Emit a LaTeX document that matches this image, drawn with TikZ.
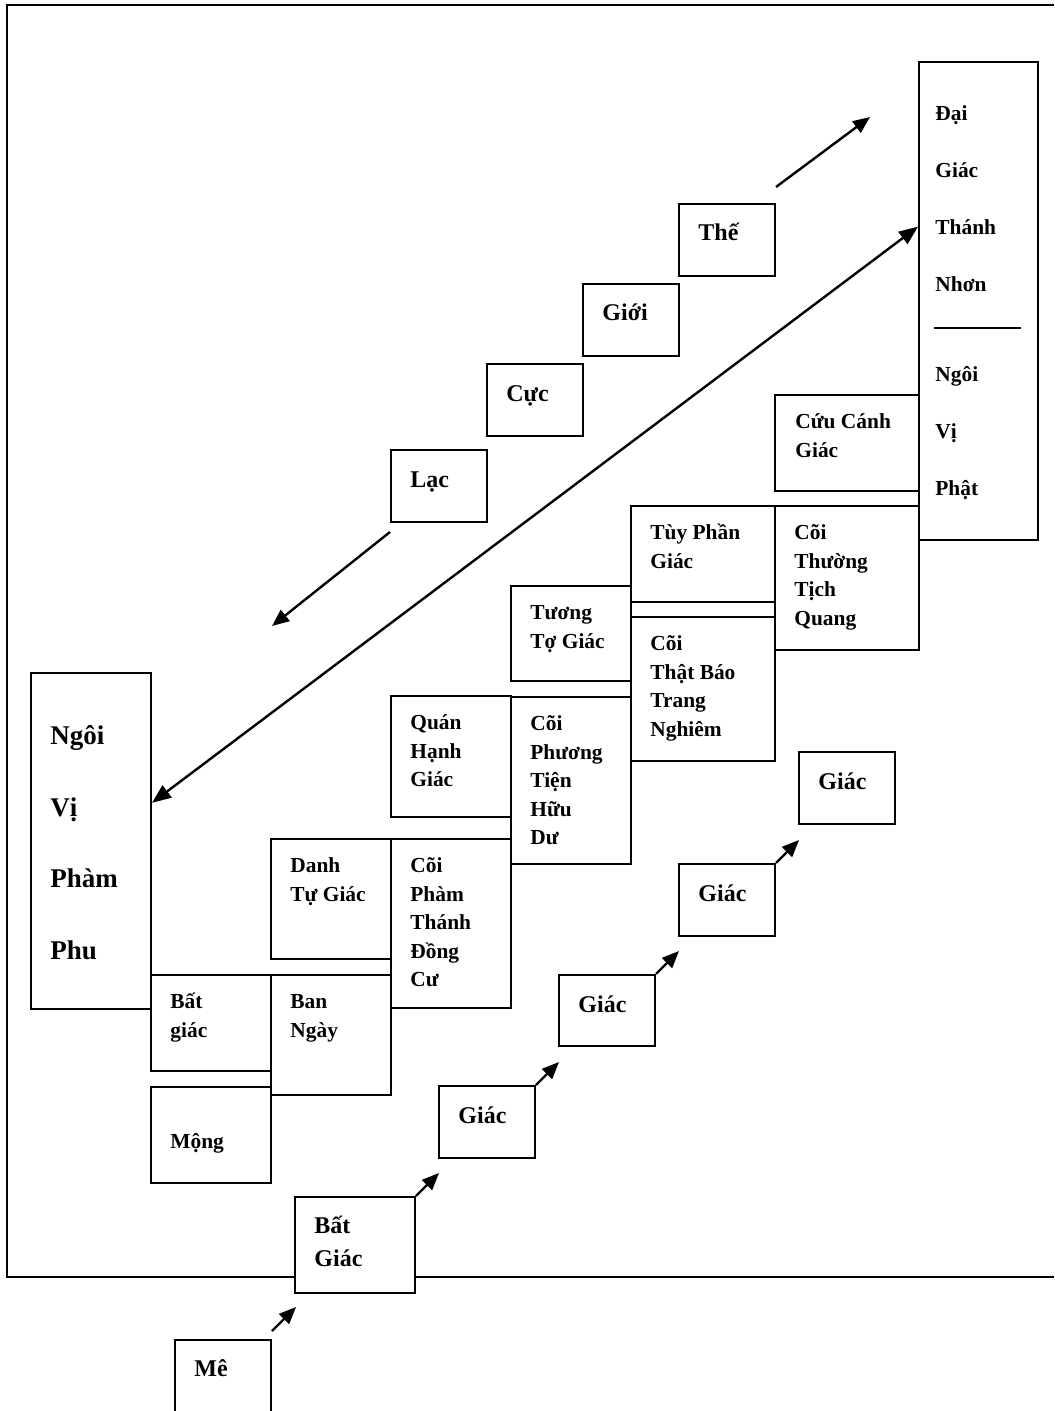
\documentclass[tikz,border=0pt]{standalone}
\usepackage{fontspec}
\setmainfont{Liberation Serif}
\usetikzlibrary{calc}
\usetikzlibrary{arrows.meta}
\usetikzlibrary{fit}

\begin{document}
\begin{tikzpicture}[x=0.5pt,y=-0.5pt]

    \tikzstyle{box}=[draw,fill=white,line width=1pt,inner sep=0pt]
    \tikzstyle{vector}=[-{Triangle[length=8.5pt,width=7pt]},line width=1.2pt,color=black]
    \tikzstyle{long vector}=[{Triangle[length=9.5pt,width=7.5pt]}-{Triangle[length=9.5pt,width=7.5pt]},line width=1.2pt,color=black]
    % base of a text is the base of its last line
    \tikzstyle{step text}=[font=\bfseries\fontsize{12}{16.2}\selectfont,anchor=base west,inner sep=0pt,align=left]
    \tikzstyle{small text}=[font=\bfseries\fontsize{10.7}{14.25}\selectfont,anchor=base west,inner sep=0pt,align=left]
    \tikzstyle{wide text}=[font=\bfseries\fontsize{10.7}{28.5}\selectfont,anchor=base west,inner sep=0pt,align=left]
    \tikzstyle{big text}=[font=\bfseries\fontsize{13.5}{35.75}\selectfont,anchor=base west,inner sep=0pt,align=left]

    \useasboundingbox (0,0) rectangle (1054,1411);
    \clip (0,0) rectangle (1054,1411);

    % Frame
    \draw[line width=1.1pt] (1054,5) -- (7,5) -- (7,1277) -- (1054,1277);

    % Ngoi vi Phat
    \node[box, fit={(919,62) (1038,540)}] (dai) {};
    \draw[line width=1pt] ([shift={(16,267)}]dai.north west) -- ([shift={(103,267)}]dai.north west);
    \node[wide text] (daiT) at ([shift={(17,231)}]dai.north west) {Đại\\Giác\\Thánh\\Nhơn};
    \node[wide text] (phatT) at ([shift={(17,434)}]dai.north west) {Ngôi\\Vị\\Phật};

    % The gioi cuc lac
    \node[box, fit={(679,204) (775,276)}] (the) {};
    \node[box, fit={(583,284) (679,356)}] (gioi) {};
    \node[box, fit={(487,364) (583,436)}] (cuc) {};
    \node[box, fit={(391,450) (487,522)}] (lac) {};
    \node[step text] (theT) at ([shift={(20,38)}]the.north west) {Thế};
    \node[step text] (gioiT) at ([shift={(20,38)}]gioi.north west) {Giới};
    \node[step text] (cucT) at ([shift={(20,38)}]cuc.north west) {Cực};
    \node[step text] (lacT) at ([shift={(20,38)}]lac.north west) {Lạc};

    % Cac coi va cac giac
    \node[box, fit={(775,395) (919,491)}] (cuucanh) {};
    \node[box, fit={(775,506) (919,650)}] (thuong) {};
    \node[box, fit={(631,506) (775,602)}] (tuyphan) {};
    \node[box, fit={(631,617) (775,761)}] (thatbao) {};
    \node[box, fit={(511,586) (631,681)}] (tuongto) {};
    \node[box, fit={(511,697) (631,864)}] (phuongtien) {};
    \node[box, fit={(391,696) (511,817)}] (quanhanh) {};
    \node[box, fit={(391,839) (511,1008)}] (phamthanh) {};
    \node[box, fit={(271,839) (391,959)}] (danhtu) {};
    \node[box, fit={(271,975) (391,1095)}] (banngay) {};
    \node[box, fit={(151,975) (271,1071)}] (batgiac) {};
    \node[box, fit={(151,1087) (271,1183)}] (mong) {};
    \node[small text] (cuucanhT) at ([shift={(21,63)}]cuucanh.north west) {Cứu Cánh\\Giác};
    \node[small text] (thuongT) at ([shift={(20,120)}]thuong.north west) {Cõi\\Thường\\Tịch\\Quang};
    \node[small text] (tuyphanT) at ([shift={(20,63)}]tuyphan.north west) {Tùy Phần\\Giác};
    \node[small text] (thatbaoT) at ([shift={(20,120)}]thatbao.north west) {Cõi\\Thật Báo\\Trang\\Nghiêm};
    \node[small text] (tuongtoT) at ([shift={(20,63)}]tuongto.north west) {Tương\\Tợ Giác};
    \node[small text] (phuongtienT) at ([shift={(20,148.5)}]phuongtien.north west) {Cõi\\Phương\\Tiện\\Hữu\\Dư};
    \node[small text] (quanhanhT) at ([shift={(20,91.5)}]quanhanh.north west) {Quán\\Hạnh\\Giác};
    \node[small text] (phamthanhT) at ([shift={(20,148.5)}]phamthanh.north west) {Cõi\\Phàm\\Thánh\\Đồng\\Cư};
    \node[small text] (danhtuT) at ([shift={(20,63)}]danhtu.north west) {Danh\\Tự Giác};
    \node[small text] (banngayT) at ([shift={(20,63)}]banngay.north west) {Ban\\Ngày};
    \node[small text] (batgiacT) at ([shift={(20,63)}]batgiac.north west) {Bất\\giác};
    \node[small text] (mongT) at ([shift={(20,62.5)}]mong.north west) {Mộng};

    % Ngoi vi pham phu
    \node[box, fit={(31,673) (151,1009)}] (phamphu) {};
    \node[big text] (phamphuT) at ([shift={(20,287)}]phamphu.north west) {Ngôi\\Vị\\Phàm\\Phu};

    % Me -> Giac
    \node[box, fit={(175,1340) (271,1440)}] (me) {};
    \node[box, fit={(295,1197) (415,1293)}] (batgiac2) {};
    \node[box, fit={(439,1086) (535,1158)}] (giac2) {};
    \node[box, fit={(559,975) (655,1046)}] (giac3) {};
    \node[box, fit={(679,864) (775,936)}] (giac4) {};
    \node[box, fit={(799,752) (895,824)}] (giac5) {};
    \node[step text] (meT) at ([shift={(20,37.5)}]me.north west) {Mê};
    \node[step text] (batgiac2T) at ([shift={(20,70)}]batgiac2.north west) {Bất\\Giác};
    \node[step text] (giac2T) at ([shift={(20,38.5)}]giac2.north west) {Giác};
    \node[step text] (giac3T) at ([shift={(20,38.5)}]giac3.north west) {Giác};
    \node[step text] (giac4T) at ([shift={(20,38.5)}]giac4.north west) {Giác};
    \node[step text] (giac5T) at ([shift={(20,38.5)}]giac5.north west) {Giác};

    % Arrows
    \coordinate (upEnd) at (870,117);
    \coordinate (downEnd) at (272,626);
    \draw[style=vector] ([shift={(0,-16)}]the.north east) -- (upEnd);
    \draw[style=vector] ([shift={(0,9)}]lac.south west) -- (downEnd);
    \draw[style=long vector] ($(phamphu.north east)!0.387!(phamphu.south east)$) -- ($(dai.north west)!0.345!(dai.south west)$);
    \draw[style=vector] ([shift={(0,-8)}]me.north east) -- ++(24,-24);
    \draw[style=vector] (batgiac2.north east) -- ++(23,-23);
    \draw[style=vector] (giac2.north east) -- ++(23,-23);
    \draw[style=vector] (giac3.north east) -- ++(23,-23);
    \draw[style=vector] (giac4.north east) -- ++(23,-23);

\end{tikzpicture}
\end{document}
